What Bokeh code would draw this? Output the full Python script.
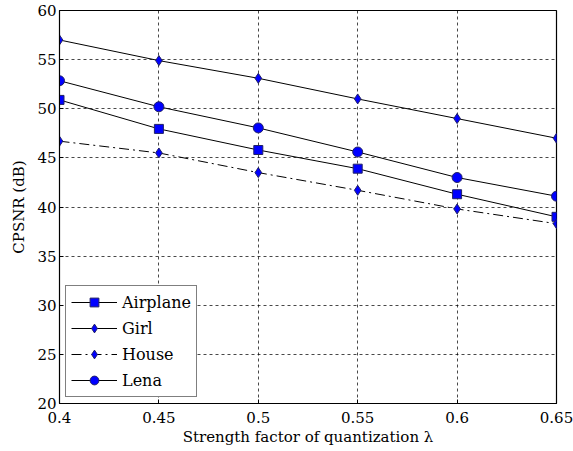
from bokeh.plotting import figure
from bokeh.embed import file_html
from bokeh.resources import INLINE
from bokeh.models import Range1d, FixedTicker, Legend, LegendItem

x = [0.4, 0.45, 0.5, 0.55, 0.6, 0.65]
airplane = [50.9, 47.95, 45.8, 43.9, 41.3, 39.0]
girl = [57.0, 54.9, 53.1, 51.0, 49.0, 47.0]
house = [46.7, 45.5, 43.5, 41.7, 39.8, 38.3]
lena = [52.85, 50.2, 48.05, 45.6, 43.0, 41.1]
xticks = [0.4, 0.45, 0.5, 0.55, 0.6, 0.65]
yticks = [20, 25, 30, 35, 40, 45, 50, 55, 60]

FONT = "DejaVu Serif"

p = figure(width=573, height=451, output_backend="svg", toolbar_location=None,
           x_range=Range1d(0.4, 0.65), y_range=Range1d(20, 60),
           min_border_left=59, min_border_right=17, min_border_top=10, min_border_bottom=48)
p.frame_width = 497
p.frame_height = 393

p.outline_line_color = "black"
p.outline_line_width = 1.2
p.background_fill_color = "white"
p.border_fill_color = "white"

for ax in (p.xaxis[0], p.yaxis[0]):
    ax.axis_line_color = "black"
    ax.major_tick_in = 4
    ax.major_tick_out = 0
    ax.minor_tick_line_color = None
    ax.major_label_text_font = FONT
    ax.major_label_text_font_size = "15px"
    ax.major_label_text_color = "black"
    ax.axis_label_text_font = FONT
    ax.axis_label_text_font_size = "15px"
    ax.axis_label_text_font_style = "normal"
    ax.axis_label_text_color = "black"

p.xaxis.ticker = FixedTicker(ticks=xticks)
p.yaxis.ticker = FixedTicker(ticks=yticks)
p.xaxis.major_label_overrides = {0.4: "0.4", 0.45: "0.45", 0.5: "0.5", 0.55: "0.55", 0.6: "0.6", 0.65: "0.65"}
p.xaxis.axis_label = "Strength factor of quantization λ"
p.yaxis.axis_label = "CPSNR (dB)"
p.xaxis.major_label_standoff = 8
p.yaxis.major_label_standoff = 3
p.xaxis.axis_label_standoff = 2
p.yaxis.axis_label_standoff = 6

for g in (p.xgrid[0], p.ygrid[0]):
    g.grid_line_color = "black"
    g.grid_line_dash = "3 3"
    g.grid_line_width = 0.8
    g.grid_line_alpha = 0.9

items = []
l1 = p.line(x, airplane, line_color="black", line_width=1)
s1 = p.scatter(x, airplane, marker="square", size=9, fill_color="blue", line_color="#222266")
items.append(LegendItem(label="Airplane", renderers=[l1, s1]))
l2 = p.line(x, girl, line_color="black", line_width=1)
s2 = p.scatter(x, girl, marker="diamond", size=10, fill_color="blue", line_color="#222266")
items.append(LegendItem(label="Girl", renderers=[l2, s2]))
l3 = p.line(x, house, line_color="black", line_width=1, line_dash="10 4 2 4")
s3 = p.scatter(x, house, marker="diamond", size=10, fill_color="blue", line_color="#222266")
items.append(LegendItem(label="House", renderers=[l3, s3]))
l4 = p.line(x, lena, line_color="black", line_width=1)
s4 = p.scatter(x, lena, marker="circle", size=10, fill_color="blue", line_color="#222266")
items.append(LegendItem(label="Lena", renderers=[l4, s4]))

legend = Legend(items=items, location="bottom_left")
legend.margin = 6
legend.padding = 5
legend.spacing = 4
legend.glyph_width = 46
legend.glyph_height = 22
legend.label_text_font = FONT
legend.label_text_font_size = "16px"
legend.label_text_color = "black"
legend.label_standoff = 5
legend.border_line_color = "black"
legend.border_line_width = 1.2
legend.background_fill_alpha = 1
legend.label_width = 58
p.add_layout(legend, "center")

open("out.html", "w").write(file_html(p, INLINE))
